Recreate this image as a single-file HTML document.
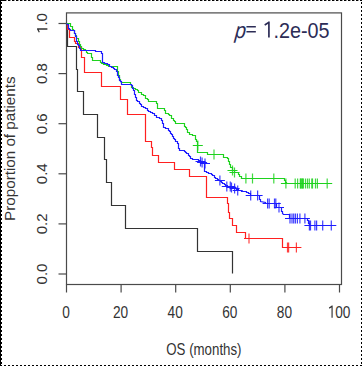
<!DOCTYPE html>
<html><head><meta charset="utf-8"><style>
html,body{margin:0;padding:0;background:#fff;}
body{width:362px;height:366px;overflow:hidden;}
svg{display:block;}
.t{font-family:"Liberation Sans",sans-serif;fill:#333;color:#333;}
.p{font-family:"Liberation Sans",sans-serif;fill:#2c2c56;color:#2c2c56;}
</style></head><body>
<svg width="362" height="366" viewBox="0 0 362 366">
<rect x="66.5" y="12.9" width="275" height="271.6" fill="none" stroke="#4a4a4a" stroke-width="1.2"/>
<path d="M58.5,23.5H66.5" stroke="#4a4a4a" stroke-width="1.2"/>
<g class="t" transform="translate(47.4,23.5) rotate(-90) scale(1,0.96)"><path d="M-5.50,0.00V-10.74M-5.37,-10.25L-8.70,-8.42" stroke="currentColor" stroke-width="1.28" fill="none"/><text x="-2.08" y="0" font-size="15.0">.</text><text x="2.08" y="0" font-size="15.0">0</text></g>
<path d="M58.5,73.6H66.5" stroke="#4a4a4a" stroke-width="1.2"/>
<g class="t" transform="translate(47.4,73.6) rotate(-90) scale(1,0.96)"><text x="-10.43" y="0" font-size="15.0">0</text><text x="-2.08" y="0" font-size="15.0">.</text><text x="2.08" y="0" font-size="15.0">8</text></g>
<path d="M58.5,123.7H66.5" stroke="#4a4a4a" stroke-width="1.2"/>
<g class="t" transform="translate(47.4,123.7) rotate(-90) scale(1,0.96)"><text x="-10.43" y="0" font-size="15.0">0</text><text x="-2.08" y="0" font-size="15.0">.</text><text x="2.08" y="0" font-size="15.0">6</text></g>
<path d="M58.5,173.8H66.5" stroke="#4a4a4a" stroke-width="1.2"/>
<g class="t" transform="translate(47.4,173.8) rotate(-90) scale(1,0.96)"><text x="-10.43" y="0" font-size="15.0">0</text><text x="-2.08" y="0" font-size="15.0">.</text><text x="2.08" y="0" font-size="15.0">4</text></g>
<path d="M58.5,223.9H66.5" stroke="#4a4a4a" stroke-width="1.2"/>
<g class="t" transform="translate(47.4,223.9) rotate(-90) scale(1,0.96)"><text x="-10.43" y="0" font-size="15.0">0</text><text x="-2.08" y="0" font-size="15.0">.</text><text x="2.08" y="0" font-size="15.0">2</text></g>
<path d="M58.5,274H66.5" stroke="#4a4a4a" stroke-width="1.2"/>
<g class="t" transform="translate(47.4,274) rotate(-90) scale(1,0.96)"><text x="-10.43" y="0" font-size="15.0">0</text><text x="-2.08" y="0" font-size="15.0">.</text><text x="2.08" y="0" font-size="15.0">0</text></g>
<path d="M66.5,284.5V292.5" stroke="#4a4a4a" stroke-width="1.2"/>
<g class="t" transform="translate(66.0,317.7) scale(0.805,1)"><text x="-4.73" y="0" font-size="17.0">0</text></g>
<path d="M121.1,284.5V292.5" stroke="#4a4a4a" stroke-width="1.2"/>
<g class="t" transform="translate(120.6,317.7) scale(0.805,1)"><text x="-9.45" y="0" font-size="17.0">2</text><text x="0.00" y="0" font-size="17.0">0</text></g>
<path d="M175.7,284.5V292.5" stroke="#4a4a4a" stroke-width="1.2"/>
<g class="t" transform="translate(175.2,317.7) scale(0.805,1)"><text x="-9.45" y="0" font-size="17.0">4</text><text x="0.00" y="0" font-size="17.0">0</text></g>
<path d="M230.3,284.5V292.5" stroke="#4a4a4a" stroke-width="1.2"/>
<g class="t" transform="translate(229.8,317.7) scale(0.805,1)"><text x="-9.45" y="0" font-size="17.0">6</text><text x="0.00" y="0" font-size="17.0">0</text></g>
<path d="M284.9,284.5V292.5" stroke="#4a4a4a" stroke-width="1.2"/>
<g class="t" transform="translate(284.4,317.7) scale(0.805,1)"><text x="-9.45" y="0" font-size="17.0">8</text><text x="0.00" y="0" font-size="17.0">0</text></g>
<path d="M339.5,284.5V292.5" stroke="#4a4a4a" stroke-width="1.2"/>
<g class="t" transform="translate(339.0,317.7) scale(0.805,1)"><path d="M-8.60,0.00V-12.17M-8.45,-11.62L-12.23,-9.55" stroke="currentColor" stroke-width="1.45" fill="none"/><text x="-4.73" y="0" font-size="17.0">0</text><text x="4.73" y="0" font-size="17.0">0</text></g>
<text transform="translate(203.9,354.9) scale(0.83,1)" text-anchor="middle" font-size="16.0" class="t">OS (months)</text>
<text transform="translate(15.1,148.7) rotate(-90) scale(1,0.95)" text-anchor="middle" font-size="15.2" class="t">Proportion of patients</text>
<g class="p" transform="translate(329.5,37.5) scale(0.887,1)"><text x="-107.25" y="0" font-size="22.3" font-style="italic" transform="skewX(-6)">p</text><path d="M-93.65,-11.51H-83.04V-9.90H-93.65ZM-93.65,-6.61H-83.04V-5.00H-93.65Z" fill="currentColor"/><path d="M-68.30,0.00V-15.96M-68.12,-15.24L-73.07,-12.52" stroke="currentColor" stroke-width="1.91" fill="none"/><text x="-63.23" y="0" font-size="22.3">.</text><text x="-57.03" y="0" font-size="22.3">2</text><text x="-44.63" y="0" font-size="22.3">e</text><text x="-32.23" y="0" font-size="22.3">-</text><text x="-24.80" y="0" font-size="22.3">0</text><text x="-12.40" y="0" font-size="22.3">5</text></g>
<path d="M66.5,23.5 L67.5,23.5 L67.5,46.5 L76.5,46.5 L76.5,69.5 L77.5,69.5 L77.5,91.5 L83.5,91.5 L83.5,114.5 L97.5,114.5 L97.5,137.5 L104.5,137.5 L104.5,159.5 L106.5,159.5 L106.5,182.5 L111.5,182.5 L111.5,205.5 L125.5,205.5 L125.5,228.5 L197.5,228.5 L197.5,251.5 L232.5,251.5 L232.5,273.5" stroke="#333333" stroke-width="1.2" fill="none"/>
<path d="M66.5,23.5 L67.5,23.5 L67.5,29.5 L69.5,29.5 L69.5,37.5 L73.5,37.5 L74.5,37.5 L74.5,39.5 L74.5,41.5 L75.5,41.5 L75.5,43.5 L78.5,43.5 L78.5,47.5 L81.5,47.5 L81.5,50.5 L81.5,57.5 L84.5,57.5 L84.5,72.5 L101.5,72.5 L101.5,86.5 L120.5,86.5 L120.5,99.5 L127.5,99.5 L127.5,114.5 L145.5,114.5 L145.5,141.5 L151.5,141.5 L151.5,147.5 L152.5,147.5 L152.5,155.5 L158.5,155.5 L158.5,162.5 L174.5,162.5 L174.5,169.5 L189.5,169.5 L189.5,176.5 L206.5,176.5 L206.5,197.5 L227.5,197.5 L227.5,203.5 L228.5,203.5 L228.5,212.5 L229.5,212.5 L229.5,218.5 L232.5,218.5 L232.5,225.5 L236.5,225.5 L236.5,232.5 L245.5,232.5 L245.5,238.5 L282.5,238.5 L282.5,247.5 L300.5,247.5" stroke="#ff2020" stroke-width="1.2" fill="none"/>
<path d="M244.00,238.5h10.0 M282.50,247.5h10.0 M283.60,247.5h10.0 M291.40,247.5h10.0" stroke="#ff2020" stroke-width="1.2" fill="none"/><path d="M249.00,233.50v10.0" stroke="#ff2020" stroke-width="1.2" stroke-opacity="0.85"/><path d="M287.50,242.50v10.0" stroke="#ff2020" stroke-width="1.2" stroke-opacity="0.85"/><path d="M288.60,242.50v10.0" stroke="#ff2020" stroke-width="1.2" stroke-opacity="0.85"/><path d="M296.40,242.50v10.0" stroke="#ff2020" stroke-width="1.2" stroke-opacity="0.85"/>
<path d="M66.5,23.5 L68.5,23.5 L70.5,23.5 L70.5,26.5 L72.5,26.5 L72.5,29.5 L73.5,29.5 L73.5,30.5 L74.5,30.5 L74.5,33.5 L75.5,33.5 L75.5,35.5 L76.5,35.5 L76.5,37.5 L76.5,38.5 L78.5,38.5 L78.5,41.5 L79.5,41.5 L79.5,44.5 L80.5,44.5 L80.5,46.5 L81.5,46.5 L81.5,48.5 L83.5,48.5 L83.5,49.5 L85.5,49.5 L85.5,50.5 L86.5,50.5 L86.5,52.5 L87.5,52.5 L87.5,53.5 L91.5,53.5 L91.5,57.5 L92.5,57.5 L92.5,58.5 L92.5,60.5 L100.5,60.5 L100.5,62.5 L101.5,62.5 L101.5,63.5 L103.5,63.5 L103.5,64.5 L104.5,64.5 L106.5,64.5 L106.5,65.5 L108.5,65.5 L108.5,66.5 L115.5,66.5 L117.5,66.5 L117.5,69.5 L117.5,71.5 L118.5,71.5 L118.5,73.5 L118.5,75.5 L119.5,75.5 L119.5,77.5 L119.5,79.5 L120.5,79.5 L120.5,81.5 L121.5,82.5 L129.5,82.5 L130.5,82.5 L130.5,84.5 L131.5,84.5 L131.5,87.5 L133.5,87.5 L133.5,88.5 L135.5,88.5 L135.5,89.5 L137.5,89.5 L137.5,90.5 L138.5,90.5 L138.5,92.5 L141.5,92.5 L141.5,94.5 L143.5,94.5 L143.5,95.5 L145.5,95.5 L145.5,98.5 L147.5,98.5 L147.5,99.5 L148.5,99.5 L148.5,101.5 L156.5,101.5 L156.5,103.5 L157.5,103.5 L157.5,104.5 L157.5,108.5 L163.5,108.5 L164.5,108.5 L164.5,110.5 L165.5,110.5 L165.5,113.5 L168.5,113.5 L168.5,114.5 L169.5,114.5 L169.5,115.5 L171.5,115.5 L171.5,118.5 L173.5,118.5 L173.5,120.5 L174.5,120.5 L174.5,121.5 L175.5,121.5 L175.5,123.5 L183.5,123.5 L184.5,123.5 L184.5,126.5 L185.5,126.5 L185.5,127.5 L186.5,127.5 L186.5,129.5 L187.5,129.5 L187.5,132.5 L189.5,132.5 L189.5,134.5 L192.5,134.5 L192.5,135.5 L195.5,135.5 L195.5,137.5 L195.5,139.5 L196.5,139.5 L196.5,141.5 L197.5,141.5 L197.5,143.5 L197.5,152.5 L206.5,152.5 L207.5,152.5 L207.5,154.5 L222.5,154.5 L223.5,154.5 L223.5,157.5 L225.5,157.5 L227.5,157.5 L227.5,158.5 L228.5,158.5 L228.5,160.5 L228.5,161.5 L229.5,161.5 L229.5,164.5 L230.5,164.5 L230.5,167.5 L232.5,167.5 L232.5,170.5 L234.5,170.5 L234.5,172.5 L238.5,172.5 L238.5,174.5 L239.5,174.5 L239.5,176.5 L241.5,176.5 L241.5,178.5 L283.5,178.5 L284.5,178.5 L284.5,180.5 L285.5,180.5 L285.5,182.5 L286.5,182.5 L286.5,183.5 L331.5,183.5" stroke="#1ed21e" stroke-width="1.2" fill="none"/>
<path d="M192.80,145.5h10.0 M209.00,154.5h10.0 M227.50,170.5h10.0 M229.50,172.5h10.0 M240.90,178.5h10.0 M247.50,178.5h10.0 M268.80,178.5h10.0 M280.90,183.5h10.0 M290.20,183.5h10.0 M292.60,183.5h10.0 M295.30,183.5h10.0 M296.30,183.5h10.0 M297.30,183.5h10.0 M298.30,183.5h10.0 M295.80,183.5h10.0 M297.80,183.5h10.0 M300.50,183.5h10.0 M302.50,183.5h10.0 M304.30,183.5h10.0 M306.80,183.5h10.0 M307.50,183.5h10.0 M310.50,183.5h10.0 M312.40,183.5h10.0 M322.20,183.5h10.0" stroke="#1ed21e" stroke-width="1.2" fill="none"/><path d="M197.80,140.50v10.0" stroke="#1ed21e" stroke-width="1.2" stroke-opacity="0.85"/><path d="M214.00,149.50v10.0" stroke="#1ed21e" stroke-width="1.2" stroke-opacity="0.85"/><path d="M232.50,165.50v10.0" stroke="#1ed21e" stroke-width="1.2" stroke-opacity="0.85"/><path d="M234.50,167.50v10.0" stroke="#1ed21e" stroke-width="1.2" stroke-opacity="0.85"/><path d="M245.90,173.50v10.0" stroke="#1ed21e" stroke-width="1.2" stroke-opacity="0.85"/><path d="M252.50,173.50v10.0" stroke="#1ed21e" stroke-width="1.2" stroke-opacity="0.85"/><path d="M273.80,173.50v10.0" stroke="#1ed21e" stroke-width="1.2" stroke-opacity="0.85"/><path d="M285.90,178.50v10.0" stroke="#1ed21e" stroke-width="1.2" stroke-opacity="0.85"/><path d="M295.20,178.50v10.0" stroke="#1ed21e" stroke-width="1.2" stroke-opacity="0.85"/><path d="M297.60,178.50v10.0" stroke="#1ed21e" stroke-width="1.2" stroke-opacity="0.85"/><path d="M300.30,178.50v10.0" stroke="#1ed21e" stroke-width="1.2" stroke-opacity="0.85"/><path d="M301.30,178.50v10.0" stroke="#1ed21e" stroke-width="1.2" stroke-opacity="0.85"/><path d="M302.30,178.50v10.0" stroke="#1ed21e" stroke-width="1.2" stroke-opacity="0.85"/><path d="M303.30,178.50v10.0" stroke="#1ed21e" stroke-width="1.2" stroke-opacity="0.85"/><path d="M300.80,178.50v10.0" stroke="#1ed21e" stroke-width="1.2" stroke-opacity="0.85"/><path d="M302.80,178.50v10.0" stroke="#1ed21e" stroke-width="1.2" stroke-opacity="0.85"/><path d="M305.50,178.50v10.0" stroke="#1ed21e" stroke-width="1.2" stroke-opacity="0.85"/><path d="M307.50,178.50v10.0" stroke="#1ed21e" stroke-width="1.2" stroke-opacity="0.85"/><path d="M309.30,178.50v10.0" stroke="#1ed21e" stroke-width="1.2" stroke-opacity="0.85"/><path d="M311.80,178.50v10.0" stroke="#1ed21e" stroke-width="1.2" stroke-opacity="0.85"/><path d="M312.50,178.50v10.0" stroke="#1ed21e" stroke-width="1.2" stroke-opacity="0.85"/><path d="M315.50,178.50v10.0" stroke="#1ed21e" stroke-width="1.2" stroke-opacity="0.85"/><path d="M317.40,178.50v10.0" stroke="#1ed21e" stroke-width="1.2" stroke-opacity="0.85"/><path d="M327.20,178.50v10.0" stroke="#1ed21e" stroke-width="1.2" stroke-opacity="0.85"/>
<path d="M66.5,23.5 L67.5,24.5 L68.5,24.5 L68.5,25.5 L68.5,26.5 L68.5,28.5 L69.5,28.5 L69.5,29.5 L70.5,29.5 L70.5,30.5 L72.5,30.5 L74.5,30.5 L74.5,32.5 L74.5,33.5 L75.5,33.5 L75.5,35.5 L75.5,36.5 L76.5,36.5 L76.5,38.5 L76.5,39.5 L76.5,41.5 L77.5,41.5 L77.5,42.5 L77.5,44.5 L78.5,44.5 L78.5,45.5 L79.5,45.5 L79.5,47.5 L79.5,48.5 L80.5,48.5 L80.5,50.5 L95.5,50.5 L95.5,51.5 L101.5,51.5 L101.5,53.5 L102.5,53.5 L102.5,62.5 L104.5,62.5 L104.5,63.5 L105.5,63.5 L107.5,63.5 L107.5,64.5 L109.5,64.5 L109.5,66.5 L111.5,66.5 L111.5,67.5 L113.5,67.5 L113.5,68.5 L114.5,68.5 L114.5,69.5 L115.5,69.5 L116.5,69.5 L116.5,71.5 L117.5,71.5 L117.5,73.5 L117.5,75.5 L118.5,75.5 L118.5,77.5 L119.5,77.5 L119.5,78.5 L119.5,80.5 L120.5,80.5 L120.5,81.5 L121.5,81.5 L121.5,83.5 L121.5,84.5 L129.5,84.5 L131.5,84.5 L131.5,85.5 L132.5,85.5 L132.5,87.5 L132.5,88.5 L133.5,88.5 L133.5,90.5 L134.5,90.5 L134.5,92.5 L134.5,94.5 L135.5,94.5 L135.5,95.5 L135.5,97.5 L136.5,97.5 L136.5,98.5 L136.5,100.5 L137.5,100.5 L137.5,101.5 L139.5,101.5 L139.5,103.5 L140.5,103.5 L140.5,104.5 L141.5,104.5 L141.5,106.5 L143.5,106.5 L143.5,107.5 L145.5,107.5 L145.5,108.5 L147.5,108.5 L147.5,110.5 L148.5,110.5 L148.5,111.5 L150.5,111.5 L150.5,112.5 L152.5,112.5 L152.5,113.5 L154.5,113.5 L154.5,115.5 L156.5,115.5 L156.5,117.5 L157.5,117.5 L159.5,117.5 L159.5,118.5 L161.5,118.5 L161.5,120.5 L162.5,120.5 L162.5,121.5 L162.5,123.5 L163.5,123.5 L163.5,124.5 L163.5,126.5 L163.5,127.5 L165.5,127.5 L165.5,128.5 L167.5,128.5 L168.5,128.5 L168.5,130.5 L169.5,130.5 L169.5,131.5 L170.5,131.5 L170.5,133.5 L171.5,133.5 L171.5,134.5 L172.5,134.5 L172.5,136.5 L173.5,136.5 L173.5,138.5 L174.5,138.5 L174.5,139.5 L175.5,139.5 L175.5,141.5 L177.5,141.5 L177.5,143.5 L178.5,143.5 L178.5,145.5 L178.5,146.5 L178.5,148.5 L179.5,148.5 L179.5,150.5 L182.5,150.5 L184.5,150.5 L184.5,151.5 L185.5,151.5 L185.5,152.5 L186.5,152.5 L186.5,153.5 L188.5,153.5 L188.5,154.5 L188.5,155.5 L189.5,155.5 L189.5,156.5 L190.5,156.5 L190.5,158.5 L191.5,158.5 L192.5,158.5 L192.5,159.5 L197.5,159.5 L198.5,159.5 L198.5,160.5 L200.5,160.5 L200.5,161.5 L204.5,162.5 L204.5,171.5 L206.5,171.5 L206.5,172.5 L208.5,172.5 L208.5,173.5 L209.5,173.5 L211.5,173.5 L211.5,174.5 L212.5,174.5 L212.5,175.5 L214.5,175.5 L214.5,177.5 L215.5,177.5 L215.5,178.5 L217.5,178.5 L217.5,179.5 L218.5,179.5 L218.5,180.5 L220.5,180.5 L220.5,181.5 L221.5,181.5 L221.5,182.5 L222.5,182.5 L222.5,183.5 L224.5,183.5 L224.5,184.5 L225.5,184.5 L225.5,185.5 L227.5,185.5 L227.5,186.5 L228.5,186.5 L230.5,186.5 L230.5,187.5 L231.5,187.5 L233.5,187.5 L233.5,188.5 L234.5,188.5 L236.5,188.5 L236.5,189.5 L238.5,189.5 L238.5,190.5 L239.5,190.5 L241.5,190.5 L241.5,191.5 L245.5,191.5 L246.5,191.5 L246.5,192.5 L248.5,192.5 L248.5,193.5 L250.5,193.5 L250.5,194.5 L250.5,195.5 L259.5,195.5 L259.5,199.5 L260.5,199.5 L260.5,201.5 L265.5,202.5 L265.5,203.5 L276.5,203.5 L276.5,207.5 L281.5,207.5 L281.5,211.5 L282.5,211.5 L282.5,213.5 L283.5,214.5 L289.5,214.5 L289.5,218.5 L307.5,218.5 L307.5,220.5 L308.5,220.5 L308.5,222.5 L308.5,223.5 L309.5,223.5 L309.5,225.5 L335.5,225.5" stroke="#1c1cff" stroke-width="1.2" fill="none"/>
<path d="M195.50,161.5h10.0 M197.10,162.5h10.0 M200.00,163.5h10.0 M214.90,180.5h10.0 M221.80,186.5h10.0 M225.30,186.5h10.0 M226.50,187.5h10.0 M229.60,188.5h10.0 M232.70,190.5h10.0 M245.70,195.5h10.0 M252.60,195.5h10.0 M262.60,203.5h10.0 M264.20,203.5h10.0 M269.50,203.5h10.0 M270.80,203.5h10.0 M274.00,207.5h10.0 M285.00,218.5h10.0 M287.00,218.5h10.0 M288.70,218.5h10.0 M290.40,218.5h10.0 M292.40,218.5h10.0 M294.90,218.5h10.0 M299.90,218.5h10.0 M304.40,225.5h10.0 M305.50,225.5h10.0 M309.90,225.5h10.0 M311.60,225.5h10.0 M317.70,225.5h10.0 M326.30,225.5h10.0" stroke="#1c1cff" stroke-width="1.2" fill="none"/><path d="M200.50,156.50v10.0" stroke="#1c1cff" stroke-width="1.2" stroke-opacity="0.85"/><path d="M202.10,157.50v10.0" stroke="#1c1cff" stroke-width="1.2" stroke-opacity="0.85"/><path d="M205.00,158.50v10.0" stroke="#1c1cff" stroke-width="1.2" stroke-opacity="0.85"/><path d="M219.90,175.50v10.0" stroke="#1c1cff" stroke-width="1.2" stroke-opacity="0.85"/><path d="M226.80,181.50v10.0" stroke="#1c1cff" stroke-width="1.2" stroke-opacity="0.85"/><path d="M230.30,181.50v10.0" stroke="#1c1cff" stroke-width="1.2" stroke-opacity="0.85"/><path d="M231.50,182.50v10.0" stroke="#1c1cff" stroke-width="1.2" stroke-opacity="0.85"/><path d="M234.60,183.50v10.0" stroke="#1c1cff" stroke-width="1.2" stroke-opacity="0.85"/><path d="M237.70,185.50v10.0" stroke="#1c1cff" stroke-width="1.2" stroke-opacity="0.85"/><path d="M250.70,190.50v10.0" stroke="#1c1cff" stroke-width="1.2" stroke-opacity="0.85"/><path d="M257.60,190.50v10.0" stroke="#1c1cff" stroke-width="1.2" stroke-opacity="0.85"/><path d="M267.60,198.50v10.0" stroke="#1c1cff" stroke-width="1.2" stroke-opacity="0.85"/><path d="M269.20,198.50v10.0" stroke="#1c1cff" stroke-width="1.2" stroke-opacity="0.85"/><path d="M274.50,198.50v10.0" stroke="#1c1cff" stroke-width="1.2" stroke-opacity="0.85"/><path d="M275.80,198.50v10.0" stroke="#1c1cff" stroke-width="1.2" stroke-opacity="0.85"/><path d="M279.00,202.50v10.0" stroke="#1c1cff" stroke-width="1.2" stroke-opacity="0.85"/><path d="M290.00,213.50v10.0" stroke="#1c1cff" stroke-width="1.2" stroke-opacity="0.85"/><path d="M292.00,213.50v10.0" stroke="#1c1cff" stroke-width="1.2" stroke-opacity="0.85"/><path d="M293.70,213.50v10.0" stroke="#1c1cff" stroke-width="1.2" stroke-opacity="0.85"/><path d="M295.40,213.50v10.0" stroke="#1c1cff" stroke-width="1.2" stroke-opacity="0.85"/><path d="M297.40,213.50v10.0" stroke="#1c1cff" stroke-width="1.2" stroke-opacity="0.85"/><path d="M299.90,213.50v10.0" stroke="#1c1cff" stroke-width="1.2" stroke-opacity="0.85"/><path d="M304.90,213.50v10.0" stroke="#1c1cff" stroke-width="1.2" stroke-opacity="0.85"/><path d="M309.40,220.50v10.0" stroke="#1c1cff" stroke-width="1.2" stroke-opacity="0.85"/><path d="M310.50,220.50v10.0" stroke="#1c1cff" stroke-width="1.2" stroke-opacity="0.85"/><path d="M314.90,220.50v10.0" stroke="#1c1cff" stroke-width="1.2" stroke-opacity="0.85"/><path d="M316.60,220.50v10.0" stroke="#1c1cff" stroke-width="1.2" stroke-opacity="0.85"/><path d="M322.70,220.50v10.0" stroke="#1c1cff" stroke-width="1.2" stroke-opacity="0.85"/><path d="M331.30,220.50v10.0" stroke="#1c1cff" stroke-width="1.2" stroke-opacity="0.85"/>
<path d="M0,0.5H362" stroke="#000" stroke-width="1" stroke-dasharray="2.4,1.6"/>
<path d="M0,365.5H362" stroke="#000" stroke-width="1" stroke-dasharray="2,2"/>
<path d="M361.5,0V366M1.5,0V366" stroke="#000" stroke-width="1" stroke-dasharray="2,2" stroke-dashoffset="2"/>
<path d="M0.5,0V366" stroke="#000" stroke-width="1"/>
<path d="M0,0.5H4" stroke="#000" stroke-width="1"/>
</svg>
</body></html>
